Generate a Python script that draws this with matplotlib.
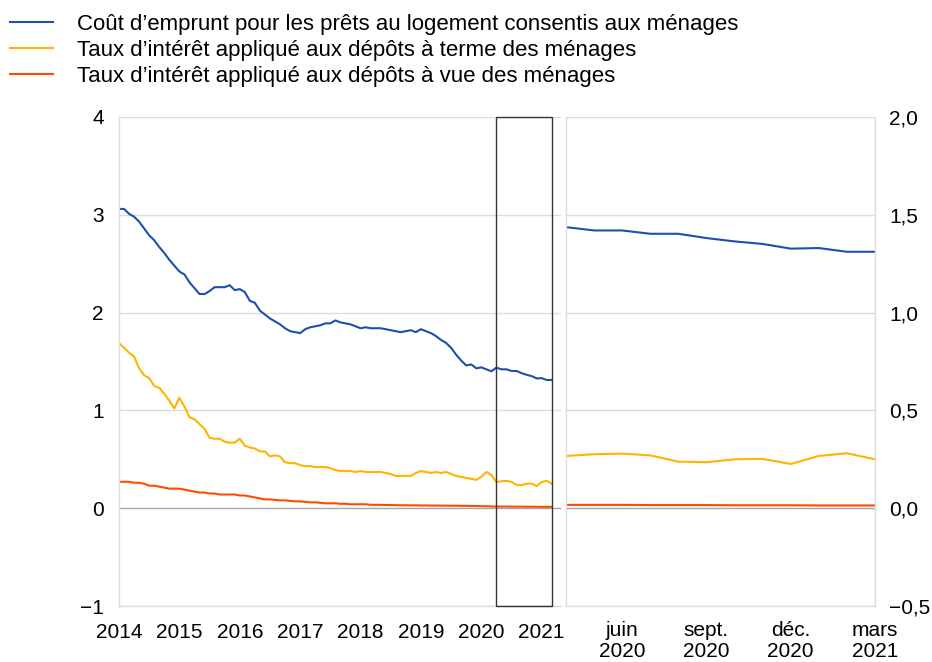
import matplotlib
matplotlib.use('Agg')
import matplotlib.pyplot as plt
import numpy as np
from matplotlib.patches import Rectangle

plt.rcParams['font.family'] = ['Liberation Sans', 'DejaVu Sans']
plt.rcParams['font.size'] = 15

# monthly data, Jan 2014 - Mar 2021
start_year = 2014
labels = [
    "Coût d’emprunt pour les prêts au logement consentis aux ménages",
    "Taux d’intérêt appliqué aux dépôts à terme des ménages",
    "Taux d’intérêt appliqué aux dépôts à vue des ménages",
]
colors = ['#1f4eaf', '#ffb400', '#ff4b00']

cost_borrowing = [
    3.06, 3.06, 3.01, 2.98, 2.93, 2.86, 2.79, 2.74, 2.67, 2.61, 2.54, 2.48,
    2.42, 2.39, 2.31, 2.25, 2.19, 2.19, 2.22, 2.26, 2.26, 2.26, 2.28, 2.23,
    2.24, 2.21, 2.12, 2.10, 2.02, 1.98, 1.94, 1.91, 1.88, 1.84, 1.81, 1.80,
    1.79, 1.83, 1.85, 1.86, 1.87, 1.89, 1.89, 1.92, 1.90, 1.89, 1.88, 1.86,
    1.84, 1.85, 1.84, 1.84, 1.84, 1.83, 1.82, 1.81, 1.80, 1.81, 1.82, 1.80,
    1.83, 1.81, 1.79, 1.76, 1.72, 1.69, 1.64, 1.57, 1.51, 1.46, 1.47, 1.43,
    1.44, 1.42, 1.40, 1.437, 1.420, 1.420, 1.403, 1.403, 1.381, 1.364, 1.351, 1.327,
    1.330, 1.311, 1.311,
]
term_deposits = [
    1.69, 1.64, 1.59, 1.55, 1.43, 1.36, 1.33, 1.25, 1.23, 1.17, 1.10, 1.02,
    1.13, 1.04, 0.93, 0.91, 0.86, 0.81, 0.72, 0.71, 0.71, 0.68, 0.67, 0.67,
    0.71, 0.64, 0.62, 0.61, 0.58, 0.58, 0.53, 0.54, 0.53, 0.47, 0.46, 0.46,
    0.44, 0.43, 0.43, 0.42, 0.42, 0.42, 0.41, 0.39, 0.38, 0.38, 0.38, 0.37,
    0.38, 0.37, 0.37, 0.37, 0.37, 0.36, 0.35, 0.33, 0.33, 0.33, 0.33, 0.36,
    0.38, 0.37, 0.36, 0.37, 0.36, 0.37, 0.35, 0.33, 0.32, 0.31, 0.30, 0.29,
    0.32, 0.37, 0.34, 0.267, 0.276, 0.279, 0.270, 0.238, 0.235, 0.250, 0.252, 0.226,
    0.267, 0.281, 0.250,
]
overnight_deposits = [
    0.27, 0.27, 0.27, 0.26, 0.26, 0.25, 0.23, 0.23, 0.22, 0.21, 0.20, 0.20,
    0.20, 0.19, 0.18, 0.17, 0.16, 0.16, 0.15, 0.15, 0.14, 0.14, 0.14, 0.14,
    0.13, 0.13, 0.12, 0.11, 0.10, 0.09, 0.09, 0.085, 0.08, 0.08, 0.075, 0.07,
    0.07, 0.065, 0.06, 0.06, 0.055, 0.05, 0.05, 0.05, 0.045, 0.045, 0.04, 0.04,
    0.04, 0.04, 0.035, 0.035, 0.034, 0.033, 0.032, 0.031, 0.030, 0.030, 0.029, 0.029,
    0.028, 0.028, 0.027, 0.027, 0.026, 0.026, 0.025, 0.025, 0.024, 0.024, 0.023, 0.022,
    0.021, 0.020, 0.018, 0.017, 0.017, 0.017, 0.016, 0.016, 0.016, 0.015, 0.015, 0.015,
    0.014, 0.014, 0.014,
]
series = [cost_borrowing, term_deposits, overnight_deposits]

years = [2014, 2015, 2016, 2017, 2018, 2019, 2020, 2021]
zoom_months = 12  # Apr 2020 - Mar 2021 on the right panel
zoom_ticks = [(2020, 6), (2020, 9), (2020, 12), (2021, 3)]
zoom_ticklabels = ['juin\n2020', 'sept.\n2020', 'déc.\n2020', 'mars\n2021']

left_ticks = [-1, 0, 1, 2, 3, 4]
right_ticks = [-0.5, 0.0, 0.5, 1.0, 1.5, 2.0]

t = start_year + np.arange(len(cost_borrowing)) / 12.0

W, H = 932, 662
fig = plt.figure(figsize=(W / 100, H / 100), dpi=100)
top, bottom = 117, 606
ax = fig.add_axes([119 / W, 1 - bottom / H, (561 - 119) / W, (bottom - top) / H])
ax2 = fig.add_axes([566 / W, 1 - bottom / H, (875 - 566) / W, (bottom - top) / H])

grid_c = '#dcdcdc'
for a in (ax, ax2):
    for s in a.spines.values():
        s.set_color(grid_c)
        s.set_linewidth(1)
    a.spines['top'].set_visible(False)
    a.tick_params(length=0)

# ---- left panel
for y, c, lab in zip(series, colors, labels):
    ax.plot(t, y, color=c, lw=1.5, label=lab)
ax.set_ylim(-1, 4)
ax.set_yticks(left_ticks)
ax.set_yticklabels([f'{v}'.replace('-', '\u2212') for v in left_ticks])
ax.tick_params(axis='y', pad=11)
for v in left_ticks:
    if v != 0:
        ax.axhline(v, color=grid_c, lw=1, zorder=0)
ax.axhline(0, color='#a6a6a6', lw=1, zorder=0)
ax.set_xlim(2014, 2021.32)
ax.set_xticks(years)
ax.set_xticklabels([str(y) for y in years])
ax.tick_params(axis='x', pad=12)
ax.spines['right'].set_visible(False)

# zoom window box
x0 = t[-zoom_months]
x1 = t[-1]
ax.add_patch(Rectangle((x0, -1), x1 - x0, 5, fill=False, edgecolor='#333333', lw=1, zorder=5, clip_on=False))

# ---- right panel
tz = t[-zoom_months:]
for y, c in zip(series, colors):
    ax2.plot(tz, np.array(y[-zoom_months:]), color=c, lw=1.5)
ax2.set_ylim(-0.5, 2.0)
ax2.set_xlim(tz[0], tz[-1])
ax2.yaxis.tick_right()
ax2.set_yticks(right_ticks)
ax2.set_yticklabels([f'{v:.1f}'.replace('.', ',').replace('-', '\u2212') for v in right_ticks])
ax2.tick_params(axis='y', pad=10)
for v in right_ticks:
    if v != 0:
        ax2.axhline(v, color=grid_c, lw=1, zorder=0)
ax2.axhline(0, color='#a6a6a6', lw=1, zorder=0)
ax2.set_xticks([yy + (mm - 1) / 12.0 for yy, mm in zoom_ticks])
ax2.set_xticklabels(zoom_ticklabels, linespacing=1.12)
ax2.tick_params(axis='x', pad=11)

fig.legend(loc='upper left', bbox_to_anchor=(1 / W, 1 - 5 / H), frameon=False,
           handlelength=1.95, handletextpad=1.05, labelspacing=0.22, borderaxespad=0,
           fontsize=16)

fig.savefig('out.png', dpi=100)
